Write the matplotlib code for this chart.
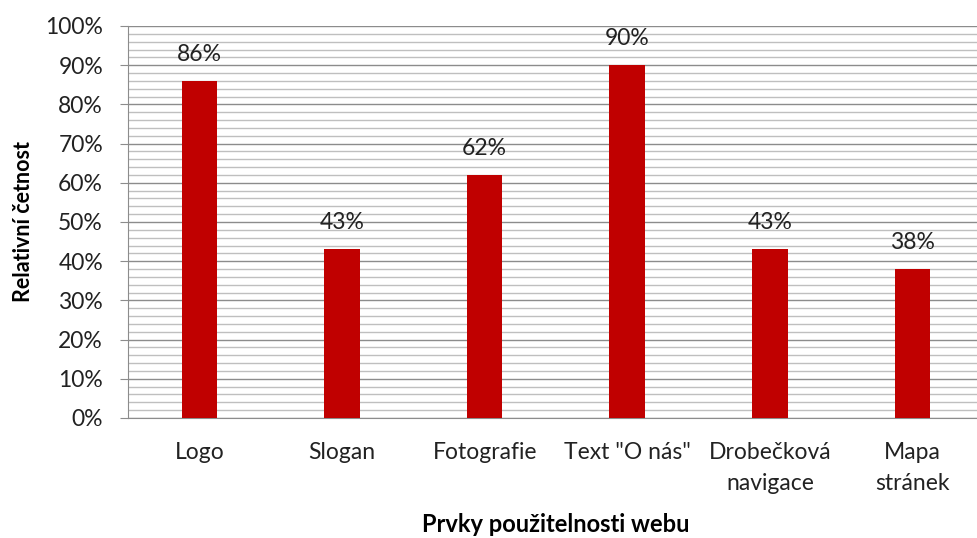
import matplotlib.pyplot as plt
from matplotlib.ticker import MultipleLocator, PercentFormatter

# Prvky použitelnosti webu - relativní četnost
kategorie = ['Logo', 'Slogan', 'Fotografie', 'Text "O nás"', 'Drobečková\nnavigace', 'Mapa\nstránek']
hodnoty = [86, 43, 62, 90, 43, 38]

plt.rcParams['font.family'] = ['Lato', 'DejaVu Sans']

fig = plt.figure(figsize=(9.77, 5.38), dpi=100)
# plocha grafu sahá kousek za pravý okraj obrázku
ax = fig.add_axes([128/977, 120/538, 856/977, 392/538])

x = range(len(kategorie))
sloupce = ax.bar(x, hodnoty, width=0.25, color='#c00000', zorder=3)

for s, h in zip(sloupce, hodnoty):
    ax.text(s.get_x() + s.get_width()/2, h + 6.8, '%d%%' % h,
            ha='center', va='center', fontsize=16.5, color='#222222')

ax.set_xlim(-0.5, len(kategorie) - 0.5)
ax.set_ylim(0, 100)
ax.yaxis.set_major_locator(MultipleLocator(10))
ax.yaxis.set_minor_locator(MultipleLocator(2))
ax.yaxis.set_major_formatter(PercentFormatter(decimals=0))

ax.grid(axis='y', which='major', color='#8c8c8c', linewidth=1.0, zorder=0)
ax.grid(axis='y', which='minor', color='#bfbfbf', linewidth=1.0, zorder=0)

ax.set_xticks(list(x))
ax.set_xticklabels(kategorie, fontsize=16.5, color='#222222', linespacing=1.6, va='top')
ax.tick_params(axis='y', labelsize=16.5, colors='#222222', length=6, color='#8c8c8c', which='major', pad=12)
ax.tick_params(axis='y', which='minor', length=0)
ax.tick_params(axis='x', length=0, pad=17)

for side in ['top', 'right']:
    ax.spines[side].set_visible(False)
ax.spines['left'].set_color('#8c8c8c')
ax.spines['bottom'].set_color('#8c8c8c')

ax.set_ylabel('Relativní četnost', fontsize=15.5, fontweight='bold', labelpad=8)
ax.set_xlabel('Prvky použitelnosti webu', fontsize=17, fontweight='bold', labelpad=14)

fig.savefig('out.png', dpi=100)
